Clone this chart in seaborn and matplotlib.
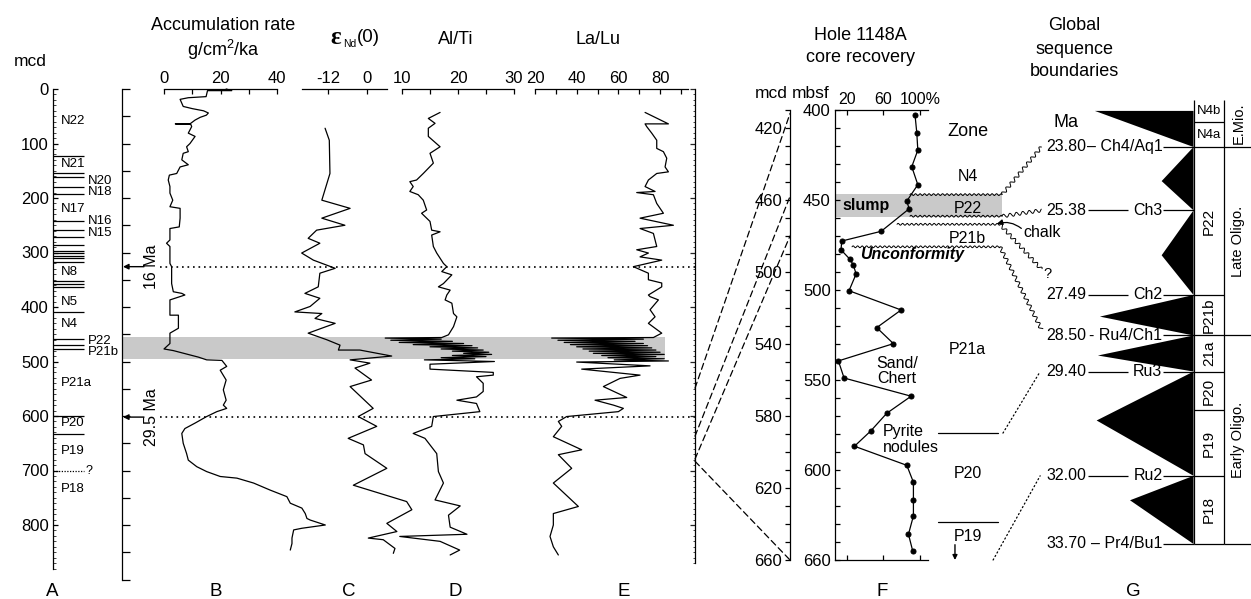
import numpy as np
import matplotlib
matplotlib.use("Agg")
import matplotlib.pyplot as plt
import seaborn as sns
from matplotlib.transforms import blended_transform_factory as btf, IdentityTransform
from matplotlib.lines import Line2D
from matplotlib.patches import Rectangle, ConnectionPatch

sns.set_theme(style="white")
plt.rcParams["font.family"] = ["Liberation Sans", "DejaVu Sans"]
plt.rcParams["mathtext.fontset"] = "custom"
plt.rcParams["mathtext.rm"] = "Liberation Sans"
plt.rcParams["mathtext.it"] = "Liberation Sans:italic"
plt.rcParams["mathtext.bf"] = "Liberation Sans:bold"

# ---------------- data ----------------
a_ticks = [0, 100, 200, 300, 400, 500, 600, 700, 800]
a_tick_labels = ["0", "100", "200", "300", "400", "500", "600", "700", "800"]
a_lines = [123, 154, 161, 180, 192, 242, 258, 271, 286, 297, 301, 306, 310, 317,
           352, 357, 364, 410, 458, 470, 477, 600, 633]
a_zone_left = ["N22", "N21", "N17", "N8", "N5", "N4", "P21a", "P20", "P19", "P18"]
a_zone_left_mcd = [58, 137, 220, 335, 390, 432, 540, 612, 665, 734]
a_zone_right = ["N20", "N18", "N16", "N15", "P22", "P21b"]
a_zone_right_mcd = [168, 189, 243, 264, 462, 482]
a_uncertain_mcd = 700

age_mcd = [326, 602]
age_labels = ["16 Ma", "29.5 Ma"]
band_mcd = [455, 495]

b_mcd = [0, 3, 3, 14, 16, 19, 32, 36, 40, 44, 48, 52, 57, 64, 64, 65, 69, 81, 87, 100, 106,
         115, 118, 130, 139, 143, 149, 155, 158, 167, 179, 191, 204, 216, 219, 237, 253,
         256, 277, 283, 289, 320, 326, 357, 372, 375, 378, 387, 415, 415, 439, 448, 467,
         477, 480, 492, 497, 498, 509, 516, 534, 552, 571, 580, 586, 592, 601, 613, 623,
         632, 650, 669, 681, 693, 702, 711, 714, 723, 736, 748, 760, 769, 779, 788, 791,
         800, 806, 809, 824, 834, 846]
b_val = [22.0, 24.0, 15.4, 14.9, 8.6, 5.7, 6.8, 10.0, 14.0, 15.7, 15.0, 12.8, 11.0, 9.2, 4.0,
         9.5, 9.8, 8.6, 11.0, 9.2, 8.0, 8.6, 6.8, 6.3, 8.6, 5.7, 5.1, 4.5, 1.9, 1.5, 2.1, 2.1,
         3.1, 2.1, 5.7, 5.7, 5.4, 2.1, 2.1, 0.9, 2.1, 2.1, 2.7, 2.7, 3.3, 6.3, 7.4, 2.1, 2.1,
         5.1, 5.1, 2.1, 2.1, 0.0, 3.3, 12.2, 15.1, 20.5, 22.2, 19.9, 22.0, 21.0, 22.0, 21.0,
         22.2, 18.7, 15.1, 11.0, 7.4, 6.3, 6.8, 8.0, 8.6, 11.6, 15.1, 19.9, 25.8, 31.7, 37.6,
         43.5, 44.7, 48.8, 50.0, 50.6, 51.8, 57.1, 48.8, 45.9, 45.3, 45.3, 44.7]

c_mcd = [72, 94, 155, 204, 219, 237, 250, 259, 274, 283, 301, 314, 329, 338, 363, 375, 384,
         399, 409, 412, 421, 430, 448, 460, 470, 479, 479, 490, 497, 503, 512, 534, 546,
         586, 601, 619, 641, 653, 669, 696, 727, 757, 772, 797, 812, 824, 827, 843, 852]
c_val = [-12.9, -11.6, -11.4, -13.9, -5.2, -13.9, -6.8, -15.5, -18.1, -14.5, -20.1, -16.5,
         -9.8, -14.5, -15.0, -19.1, -14.5, -17.5, -22.2, -13.9, -16.0, -9.8, -18.1, -12.4,
         -8.3, -8.8, -2.2, 7.6, -5.2, 0.9, -3.7, 1.4, -5.2, 1.9, -2.7, 3.0, -5.8, -1.1,
         -0.6, 6.1, -4.2, 12.2, 13.8, 6.1, 9.2, 0.4, 5.0, 8.6, 8.1]

d_mcd = [43, 54, 63, 72, 87, 106, 118, 136, 155, 167, 170, 179, 188, 194, 204, 222, 228,
         243, 259, 262, 268, 289, 301, 320, 326, 335, 341, 357, 363, 369, 378, 387, 393,
         412, 418, 436, 451, 456,
         457, 459, 461, 463, 465, 467, 469, 471, 473, 475, 477, 479, 481, 483, 485, 487,
         489, 491, 493, 495, 497,
         500, 505, 514, 520, 525, 528, 540, 555, 565, 571, 577, 592, 601, 619, 632, 641,
         669, 702, 723, 754, 765, 782, 804, 817, 821, 830, 846, 855]
d_val = [16.8, 14.7, 15.9, 14.7, 14.7, 16.8, 15.0, 15.6, 13.8, 12.6, 11.4, 12.0, 11.4, 12.9,
         13.8, 14.4, 13.5, 15.0, 15.3, 16.8, 15.3, 15.6, 16.2, 17.4, 18.0, 17.1, 18.9, 17.4,
         16.5, 18.6, 18.0, 17.7, 18.9, 19.2, 19.8, 19.2, 18.3, 17.1,
         7.0, 17.0, 8.0, 19.0, 9.5, 21.0, 12.0, 22.5, 15.0, 23.5, 17.0, 24.5, 19.0, 25.5,
         21.0, 26.0, 19.0, 25.0, 17.0, 23.0, 14.0,
         26.5, 15.0, 15.0, 26.3, 26.3, 23.3, 24.5, 24.5, 23.3, 19.8, 23.3, 23.9, 15.6, 15.3,
         12.0, 14.1, 16.2, 16.5, 17.4, 15.9, 20.4, 18.3, 18.6, 21.6, 9.6, 16.8, 20.3, 18.6]

e_mcd = [43, 64, 64, 69, 81, 94, 109, 115, 127, 143, 152, 155, 167, 179, 188, 190, 194, 210,
         228, 237, 250, 256, 265, 289, 295, 301, 308, 314, 326, 338, 350, 356, 363, 378,
         381, 387, 405, 418, 430, 448, 456,
         457, 459, 461, 463, 465, 467, 469, 471, 473, 475, 477, 479, 481, 483, 485, 487,
         489, 491, 493, 495, 497, 499, 501,
         508, 514, 525, 531, 546, 566, 571, 580, 586, 592, 601, 610, 619, 638, 662, 671,
         696, 723, 766, 779, 800, 821, 840, 855]
e_val = [72.8, 84.0, 72.8, 73.6, 76.0, 78.4, 78.4, 81.6, 83.2, 82.4, 84.0, 78.4, 74.4, 72.8,
         77.6, 68.8, 76.8, 78.4, 81.6, 70.4, 86.4, 70.4, 76.8, 78.4, 68.8, 74.4, 70.4, 80.8,
         67.2, 74.4, 74.4, 80.8, 80.8, 74.4, 75.2, 79.2, 75.2, 77.6, 74.4, 80.8, 76.8,
         28.0, 72.0, 31.0, 68.0, 34.0, 72.0, 37.0, 74.0, 40.0, 76.0, 43.0, 78.0, 46.0, 80.0,
         48.0, 82.0, 52.0, 78.0, 55.0, 82.0, 58.0, 84.0, 40.0,
         75.2, 42.4, 70.4, 60.8, 52.8, 64.0, 48.8, 57.6, 62.4, 60.0, 35.2, 31.2, 32.8, 28.8,
         42.4, 31.2, 37.6, 28.8, 40.8, 28.8, 28.8, 27.2, 28.8, 31.2]

# ties: depth on the composite column -> depth on the Hole 1148A mcd scale
tie_big_mcd = [549, 637, 679, 683]
tie_f_mcd = [412, 458, 480, 660]

rec_mbsf = [403, 412.8, 422.3, 431.5, 441.5, 450.6, 454.9, 467.4, 472.8, 477.7, 483, 486.2,
            491.1, 500.4, 511.1, 520.9, 529.8, 539.4, 548.9, 559, 568.5, 578.3, 586.8, 597.4,
            606.8, 616.4, 625.5, 635.7, 645.1]
rec_pct = [94.5, 96.4, 97.5, 90.9, 97.5, 85.5, 88.0, 57.5, 14.5, 13.8, 23.6, 27.3, 30.2, 22.5,
           79.3, 52.7, 70.9, 10.9, 17.1, 90.2, 63.6, 46.2, 28.4, 85.5, 92.7, 92.7, 92.7, 87.3,
           92.0]
f_mbsf_ticks = [400, 450, 500, 550, 600, 650]
f_mbsf_labels = ["400", "450", "500", "550", "600", "660"]
f_mcd_ticks = [420, 460, 500, 540, 580, 620, 660]
f_pct_ticks = [20, 60, 100]
f_pct_labels = ["20", "60", "100%"]
slump_mbsf = [446.4, 459.6]
f_zone_labels = ["Zone", "N4", "P22", "P21b", "P21a", "P20", "P19"]
f_zone_mbsf = [412, 437, 454.5, 471.5, 533, 601.7, 637]
f_zone_lines = [579.5, 629]
unconf_mbsf = [447, 459, 463.5, 476]
unconf_x0 = [0.806, 0.806, 0.667, 0.183]
unconf_x1 = [1.796, 1.796, 1.774, 1.774]
unconf_age = [23.80, 25.38, 26.85, 28.35]

seq_age = [23.80, 25.38, 27.49, 28.50, 29.40, 32.00, 33.70]
seq_name = ["– Ch4/Aq1", "Ch3", "Ch2", "- Ru4/Ch1", "Ru3", "Ru2", "– Pr4/Bu1"]
tri_top = [22.90, 23.80, 25.38, 27.49, 28.50, 29.40, 32.00]
tri_tip_age = [22.90, 24.65, 26.50, 28.03, 29.00, 30.62, 32.61]
tri_bot = [23.80, 25.38, 27.49, 28.50, 29.40, 32.00, 33.70]
tri_tip_x = [0.378, 0.644, 0.644, 0.398, 0.390, 0.385, 0.518]
zone_names = ["N4b", "N4a", "P22", "P21b", "21a", "P20", "P19", "P18"]
zone_top = [22.63, 23.18, 23.80, 27.49, 28.50, 29.40, 30.37, 32.00]
zone_bot = [23.18, 23.80, 27.49, 28.50, 29.40, 30.37, 32.00, 33.70]
epoch_names = ["E.Mio.", "Late Oligo.", "Early Oligo."]
epoch_top = [22.63, 23.80, 28.50]
epoch_bot = [23.80, 28.50, 33.70]

# ---------------- figure ----------------
W, H = 1251, 599
fig = plt.figure(figsize=(W / 100, H / 100), dpi=100)
fig.patch.set_facecolor("white")
K = "black"


def pxbox(x0, y0, x1, y1):
    return fig.add_axes([x0 / W, 1 - y1 / H, (x1 - x0) / W, (y1 - y0) / H])


def clean(ax):
    ax.set_facecolor("none")
    for sp in ax.spines.values():
        sp.set_visible(False)
        sp.set_color(K)
        sp.set_linewidth(0.9)
    ax.set_xticks([])
    ax.set_yticks([])
    ax.set_xlabel("")
    ax.set_ylabel("")


def ftext(x, y, s, **kw):
    kw.setdefault("ha", "center")
    kw.setdefault("va", "center")
    kw.setdefault("color", K)
    return fig.text(x / W, 1 - y / H, s, **kw)


Y0, Y1, MCDMAX = 89, 579.5, 900

bg = pxbox(122, Y0, 695, Y1)
clean(bg)
bg.set_xlim(0, 1)
bg.set_ylim(MCDMAX, 0)
bg.axhspan(band_mcd[0], band_mcd[1], xmin=0, xmax=(665 - 122) / 573, color="#c9c9c9", lw=0, zorder=0)
tb = btf(bg.transAxes, bg.transData)
for m, lab in zip(age_mcd, age_labels):
    bg.axhline(m, xmin=38 / 573, xmax=1, ls=(0, (1, 2.3)), color=K, lw=1.2)
    bg.annotate("", xy=(1 / 573, m), xytext=(22 / 573, m), xycoords=tb, textcoords=tb,
                arrowprops=dict(arrowstyle="-|>", color=K, lw=1.0, mutation_scale=8,
                                shrinkA=0, shrinkB=0), annotation_clip=False)
    bg.text(29 / 573, m, lab, transform=tb, rotation=90, ha="center", va="center",
            fontsize=11.5, color=K)

axA = pxbox(53, Y0, 130, Y1)
clean(axA)
axA.set_xlim(0, 1)
axA.set_ylim(MCDMAX, 0)
axA.spines["left"].set_visible(True)
axA.spines["left"].set_bounds(0, 880)
axA.set_yticks(a_ticks)
axA.set_yticklabels(a_tick_labels)
axA.set_yticks(np.arange(0, 881, 10), minor=True)
axA.tick_params(axis="y", which="major", direction="in", length=3.5, width=0.9, left=True,
                labelsize=12, pad=3, colors=K)
axA.tick_params(axis="y", which="minor", direction="in", length=1.8, width=0.6, left=True)
axA.hlines(a_lines, 0, 0.4026, color=K, lw=0.9)
axA.hlines(a_uncertain_mcd, 0, 0.4026, color=K, lw=0.9, linestyles=(0, (1, 1.2)))
axA.text(0.42, a_uncertain_mcd, "?", fontsize=9, va="center", ha="left", color=K)
for lab, m in zip(a_zone_left, a_zone_left_mcd):
    axA.text(0.104, m, lab, fontsize=9.5, va="center", ha="left", color=K)
for lab, m in zip(a_zone_right, a_zone_right_mcd):
    axA.text(0.455, m, lab, fontsize=9.5, va="center", ha="left", color=K)

axBs = pxbox(122, Y0, 150, Y1)
clean(axBs)
axBs.set_ylim(MCDMAX, 0)
axBs.spines["left"].set_visible(True)
axBs.spines["left"].set_bounds(0, 900)
axBs.set_yticks(np.arange(0, 901, 50))
axBs.set_yticklabels([])
axBs.tick_params(axis="y", direction="in", length=5.8, width=0.9, left=True, colors=K)


def top_panel(x0, x1, xlim, major, labels, minor, xs, ys):
    ax = pxbox(x0, Y0, x1, Y1)
    clean(ax)
    sns.lineplot(x=xs, y=ys, sort=False, estimator=None, color=K, linewidth=0.9, ax=ax)
    for ln in ax.lines:
        ln.set_clip_on(False)
    ax.set_xlim(*xlim)
    ax.set_ylim(MCDMAX, 0)
    ax.set_xlabel("")
    ax.set_ylabel("")
    ax.set_yticks([])
    ax.spines["top"].set_visible(True)
    ax.xaxis.set_ticks_position("top")
    ax.set_xticks(major)
    ax.set_xticklabels(labels)
    ax.set_xticks(minor, minor=True)
    ax.tick_params(axis="x", which="both", direction="in", length=3.6, width=0.9, top=True,
                   bottom=False, labeltop=True, labelbottom=False, labelsize=12, pad=2.5,
                   colors=K)
    return ax


axB = top_panel(164, 277, (0, 40), [0, 20, 40], ["0", "20", "40"], [10, 30], b_val, b_mcd)
axC = top_panel(302, 386.5, (-20, 6), [-12, 0], ["-12", "0"], [], c_val, c_mcd)
axD = top_panel(402, 514, (10, 30), [10, 20, 30], ["10", "20", "30"], [15, 25], d_val, d_mcd)
axE = top_panel(535, 688, (20, 93.4), [20, 40, 60, 80], ["20", "40", "60", "80"],
                [30, 50, 70, 90], e_val, e_mcd)

axER = pxbox(660, Y0, 695, Y1)
clean(axER)
axER.set_ylim(MCDMAX, 0)
axER.spines["right"].set_visible(True)
axER.spines["right"].set_bounds(0, 870)
axER.yaxis.set_ticks_position("right")
axER.set_yticks(np.arange(0, 801, 100))
axER.set_yticks(np.arange(0, 871, 10), minor=True)
axER.set_yticklabels([])
axER.tick_params(axis="y", which="major", direction="in", length=3.8, width=0.9, right=True, left=False)
axER.tick_params(axis="y", which="minor", direction="in", length=1.8, width=0.6, right=True, left=False)

FY0, FY1 = 110, 560
axFm = pxbox(790, FY0, 835, FY1)
clean(axFm)
axFm.set_ylim(660, 410)
axFm.spines["left"].set_visible(True)
axFm.set_yticks(f_mcd_ticks)
axFm.set_yticklabels([str(t) for t in f_mcd_ticks])
axFm.set_yticks(np.arange(410, 661, 10), minor=True)
axFm.tick_params(axis="y", which="both", direction="out", length=3.6, width=0.9, left=True,
                 labelsize=12, pad=2, colors=K)

axF = pxbox(835, FY0, 928, FY1)
clean(axF)
tF = btf(axF.transAxes, axF.transData)
axF.add_patch(Rectangle((0, slump_mbsf[0]), (1002 - 835) / 93, slump_mbsf[1] - slump_mbsf[0],
                        transform=tF, facecolor="#c9c9c9", edgecolor="none", clip_on=False, zorder=0))
sns.lineplot(x=rec_pct, y=rec_mbsf, sort=False, estimator=None, color=K, linewidth=0.9,
             marker="o", markersize=3.6, markeredgecolor=K, markerfacecolor=K, ax=axF)
axF.set_xlim(7.2, 108.6)
axF.set_ylim(650, 400)
axF.set_xlabel("")
axF.set_ylabel("")
for s in ["left", "top", "bottom"]:
    axF.spines[s].set_visible(True)
axF.yaxis.set_ticks_position("left")
axF.set_yticks(f_mbsf_ticks)
axF.set_yticklabels(f_mbsf_labels)
axF.set_yticks(np.arange(400, 651, 10), minor=True)
axF.tick_params(axis="y", which="both", direction="in", length=3.6, width=0.9, left=True,
                labelsize=12, pad=3, colors=K)
axF.xaxis.set_ticks_position("both")
axF.set_xticks(f_pct_ticks)
axF.set_xticklabels(f_pct_labels)
axF.tick_params(axis="x", which="both", direction="in", length=3.6, width=0.9, top=True,
                bottom=True, labeltop=True, labelbottom=False, labelsize=11.5, pad=2, colors=K)
axF.text(0.075, 453, "slump", transform=tF, fontsize=11.5, fontweight="bold", ha="left",
         va="center", color=K)
for lab, m in zip(f_zone_labels, f_zone_mbsf):
    axF.text(1.425, m, lab, transform=tF, fontsize=13 if lab == "Zone" else 11.5,
             ha="center", va="center", color=K, clip_on=False)
axF.text(0.828, 480.5, "Unconformity", transform=tF, fontsize=11.5, fontweight="bold",
         fontstyle="italic", ha="center", va="center", color=K)
axF.text(0.667, 545, "Sand/\nChert", transform=tF, fontsize=11.5, ha="center", va="center",
         linespacing=1.05, color=K)
axF.text(0.516, 583, "Pyrite\nnodules", transform=tF, fontsize=11.5, ha="left", va="center",
         linespacing=1.05, color=K)
for m in f_zone_lines:
    axF.plot([1.108, 1.753], [m, m], transform=tF, color=K, lw=0.9, clip_on=False)
axF.annotate("", xy=(1.29, 650), xytext=(1.29, 641.5), xycoords=tF, textcoords=tF,
             arrowprops=dict(arrowstyle="-|>", color=K, lw=1.0, mutation_scale=7, shrinkA=0,
                             shrinkB=0), annotation_clip=False)

GY0, GY1 = 98, 580
age_top = 23.80 - (147 - GY0) / 40.1
age_bot = 23.80 + (GY1 - 147) / 40.1
axG = pxbox(1000, GY0, 1251, GY1)
clean(axG)
axG.set_xlim(0, 1)
axG.set_ylim(age_bot, age_top)
TR, ZR = 0.771, 0.892
for t, ta, b, tx in zip(tri_top, tri_tip_age, tri_bot, tri_tip_x):
    axG.fill([TR, tx, TR], [t, ta, b], color=K, lw=0)
axG.vlines([TR, ZR], zone_top[0], zone_bot[-1], color=K, lw=0.9)
axG.hlines(zone_top[1:] + [zone_bot[-1]], TR, ZR, color=K, lw=0.9)
axG.hlines(epoch_bot, ZR, 1.0, color=K, lw=0.9)
for a, nm in zip(seq_age, seq_name):
    axG.text(0.343, a, f"{a:.2f}", ha="right", va="center", fontsize=11.5, color=K)
    axG.text(0.647, a, nm, ha="right", va="center", fontsize=11.5, color=K)
    if not nm.startswith(("–", "-")):
        axG.hlines(a, 0.352, 0.51, color=K, lw=0.9)
    axG.hlines(a, 0.649, TR, color=K, lw=0.9)
axG.text(0.263, 23.18, "Ma", ha="center", va="center", fontsize=13, color=K)
for nm, t, b in zip(zone_names, zone_top, zone_bot):
    rot = 0 if nm.startswith("N") else 90
    axG.text((TR + ZR) / 2 + 0.002, (t + b) / 2, nm, ha="center", va="center",
             fontsize=9.5 if rot == 0 else 11, rotation=rot, color=K)
for nm, t, b in zip(epoch_names, epoch_top, epoch_bot):
    axG.text((ZR + 1.0) / 2 + 0.004, (t + b) / 2, nm, ha="center", va="center", fontsize=10.5,
             rotation=90, color=K)
axG.text(0.092, 25.92, "chalk", ha="left", va="center", fontsize=11.5, color=K)
axG.text(0.172, 26.97, "?", ha="left", va="center", fontsize=10.5, color=K)
tG = axG.transData

for mb, mf in zip(tie_big_mcd, tie_f_mcd):
    con = ConnectionPatch(xyA=(1, mb), coordsA=btf(axER.transAxes, axER.transData),
                          xyB=(0, mf), coordsB=btf(axFm.transAxes, axFm.transData),
                          color=K, lw=0.9, ls=(0, (5, 3)))
    fig.add_artist(con)

for (fx, fm), ga in zip([(1.806, 579.5), (1.70, 650)], [29.40, 32.00]):
    con = ConnectionPatch(xyA=(fx, fm), coordsA=tF, xyB=(0.16, ga), coordsB=tG, color=K,
                          lw=0.9, ls=(0, (1, 2.2)))
    fig.add_artist(con)

con = ConnectionPatch(xyA=(0.085, 25.83), coordsA=tG, xyB=(1.742, unconf_mbsf[2] - 0.3), coordsB=tF,
                      color=K, lw=0.9, arrowstyle="-|>", mutation_scale=8,
                      connectionstyle="arc3,rad=0.25", shrinkA=0, shrinkB=0)
fig.add_artist(con)


def wavy(p0, p1, amp=1.0, wl=4.5):
    p0 = np.asarray(p0, float)
    p1 = np.asarray(p1, float)
    d = p1 - p0
    L = np.hypot(*d)
    n = max(int(L * 3), 4)
    s = np.linspace(0, L, n)
    nrm = np.array([-d[1], d[0]]) / L
    off = amp * np.sin(2 * np.pi * s / wl)
    pts = p0[None, :] + (s / L)[:, None] * d[None, :] + off[:, None] * nrm[None, :]
    return pts[:, 0], pts[:, 1]


for m, x0, x1, ga in zip(unconf_mbsf, unconf_x0, unconf_x1, unconf_age):
    pa = tF.transform((x0, m))
    pb = tF.transform((x1, m))
    pc = tG.transform((0.165, ga))
    for p, q, amp, wl in [(pa, pb, 0.9, 4.5), (pb, pc, 1.7, 6.5)]:
        xs, ys = wavy(p, q, amp=amp, wl=wl)
        fig.add_artist(Line2D(xs, ys, transform=IdentityTransform(), color=K, lw=0.7))

ftext(30, 62, "mcd", fontsize=12.5)
ftext(223, 25, "Accumulation rate", fontsize=13)
ftext(223, 50, "g/cm$^{2}$/ka", fontsize=13)
ftext(336, 38, "ε", fontsize=18, fontweight="bold", family=["Liberation Serif", "DejaVu Serif"])
ftext(350, 44, "Nd", fontsize=7.5)
ftext(368, 37, "(0)", fontsize=13.5)
ftext(456, 40, "Al/Ti", fontsize=13)
ftext(598, 40, "La/Lu", fontsize=13)
ftext(860, 35, "Hole 1148A", fontsize=13)
ftext(860, 57, "core recovery", fontsize=13)
ftext(771, 93, "mcd", fontsize=12.5)
ftext(811, 93, "mbsf", fontsize=12.5)
ftext(1074, 25, "Global", fontsize=13)
ftext(1074, 49, "sequence", fontsize=13)
ftext(1074, 72, "boundaries", fontsize=13)

for lab, x in zip(["A", "B", "C", "D", "E", "F", "G"], [52, 216, 349, 455, 624, 882, 1133]):
    ftext(x, 591, lab, fontsize=13.5)

fig.savefig("out.png", dpi=100)
